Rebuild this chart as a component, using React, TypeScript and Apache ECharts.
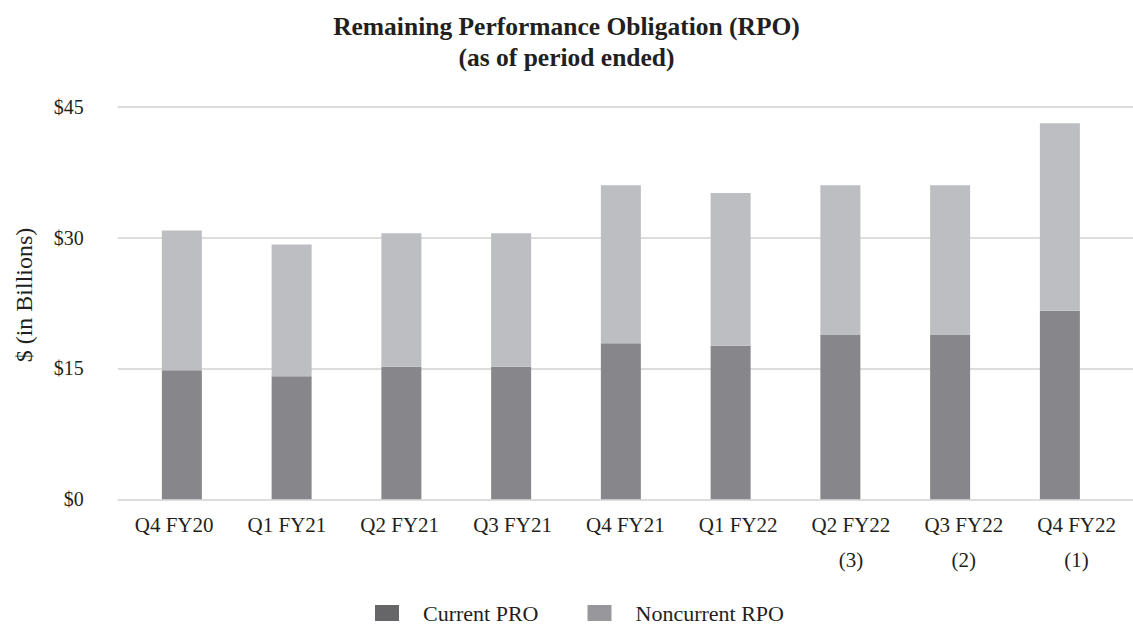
import React, { useEffect, useRef } from "react";
import * as echarts from "echarts";

const categories = [
  "Q4 FY20",
  "Q1 FY21",
  "Q2 FY21",
  "Q3 FY21",
  "Q4 FY21",
  "Q1 FY22",
  "Q2 FY22\n(3)",
  "Q3 FY22\n(2)",
  "Q4 FY22\n(1)",
];
const currentRPO = [14.8, 14.1, 15.2, 15.2, 17.9, 17.6, 18.9, 18.9, 21.6];
const noncurrentRPO = [16.0, 15.1, 15.3, 15.3, 18.1, 17.5, 17.1, 17.1, 21.5];
const yTicks = [0, 15, 30, 45];

const FONT = "Liberation Serif";
const TEXT = "#231f20";

export default function App() {
  const ref = useRef<HTMLDivElement>(null);
  useEffect(() => {
    if (!ref.current) return;
    const chart = echarts.init(ref.current, undefined, { renderer: "svg" });
    const top = 106.7;
    const height = 392.6;
    chart.setOption({
      animation: false,
      backgroundColor: "#ffffff",
      textStyle: { fontFamily: FONT, color: TEXT },
      title: {
        text: "Remaining Performance Obligation (RPO)\n(as of period ended)",
        left: "center",
        top: 6,
        textStyle: {
          fontFamily: FONT,
          fontWeight: "bold",
          fontSize: 25.5,
          lineHeight: 31,
          color: TEXT,
        },
      },
      legend: {
        left: 375,
        top: 602,
        padding: 0,
        itemWidth: 24,
        itemHeight: 16,
        itemGap: 49,
        icon: "rect",
        textStyle: {
          fontFamily: FONT,
          fontSize: 22,
          color: TEXT,
          padding: [0, 0, 0, 19],
        },
        data: [
          { name: "Current PRO", itemStyle: { color: "#666668" } },
          { name: "Noncurrent RPO", itemStyle: { color: "#98989c" } },
        ],
      },
      grid: [
        { left: 127, top, width: 987.75, height, containLabel: false },
        { left: 117.7, top, width: 1031.4, height, containLabel: false },
      ],
      xAxis: [
        {
          type: "category",
          gridIndex: 0,
          data: categories,
          show: false,
        },
        {
          type: "category",
          gridIndex: 1,
          data: categories,
          axisLine: { show: false },
          axisTick: { show: false },
          axisLabel: {
            fontFamily: FONT,
            fontSize: 21,
            color: TEXT,
            lineHeight: 35,
            margin: 8.5,
            interval: 0,
          },
        },
      ],
      yAxis: [
        {
          type: "value",
          gridIndex: 0,
          min: 0,
          max: 45,
          interval: 15,
          show: false,
          splitLine: { show: false },
        },
        {
          type: "value",
          gridIndex: 1,
          min: yTicks[0],
          max: yTicks[yTicks.length - 1],
          interval: 15,
          name: "$ (in Billions)",
          nameLocation: "middle",
          nameGap: 82,
          nameTextStyle: {
            fontFamily: FONT,
            fontSize: 24,
            color: TEXT,
            padding: [0, 0, 0, 16],
          },
          axisLine: { show: false },
          axisTick: { show: false },
          axisLabel: {
            fontFamily: FONT,
            fontSize: 20,
            color: TEXT,
            margin: 34,
            formatter: (v: number) => "$" + v,
          },
          splitLine: { lineStyle: { color: "#d2d2d2", width: 1.6 } },
        },
      ],
      series: [
        {
          name: "Current PRO",
          type: "bar",
          stack: "rpo",
          xAxisIndex: 0,
          yAxisIndex: 0,
          barWidth: 40,
          data: currentRPO,
          itemStyle: { color: "#87878b" },
        },
        {
          name: "Noncurrent RPO",
          type: "bar",
          stack: "rpo",
          xAxisIndex: 0,
          yAxisIndex: 0,
          barWidth: 40,
          data: noncurrentRPO,
          itemStyle: { color: "#bdbec2" },
        },
      ],
    });
    return () => chart.dispose();
  }, []);
  return (
    <div
      ref={ref}
      style={{ position: "fixed", left: 0, top: 0, width: 1133, height: 626 }}
    />
  );
}
